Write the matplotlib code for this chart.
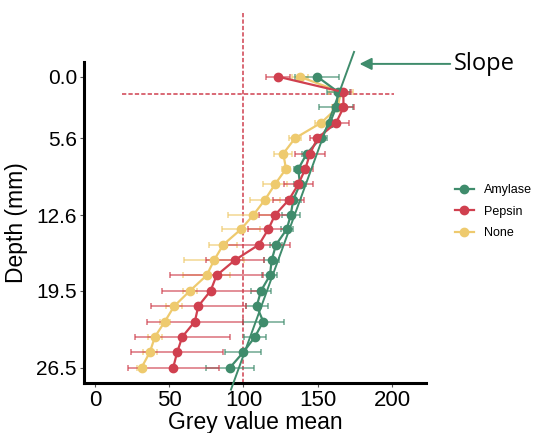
import matplotlib
matplotlib.use("Agg")
import matplotlib.pyplot as plt
from matplotlib.lines import Line2D

plt.rcParams['font.family'] = ['Liberation Sans', 'DejaVu Sans']

# depth of each slice (mm) and the y tick labels
depth = [0.0, 1.4, 2.8, 4.2, 5.6, 7.0, 8.4, 9.8, 11.2, 12.6,
         13.9, 15.3, 16.7, 18.1, 19.5, 20.9, 22.3, 23.7, 25.1, 26.5]
depth_ticks = [0.0, 5.6, 12.6, 19.5, 26.5]
grey_ticks = [0, 50, 100, 150, 200]

amylase = [149.7, 163.8, 162.3, 158.2, 151.9, 142.6, 136.9, 138.0, 133.5, 131.8,
           129.1, 121.9, 119.0, 117.8, 111.8, 108.9, 113.3, 107.7, 99.9, 90.9]
amylase_err = [14.8, 7.8, 11.4, 5, 4, 3, 3, 4, 5, 6,
               4, 4, 5, 5, 6.7, 7.4, 13.7, 7.4, 12.1, 16.4]

pepsin = [123.4, 167.2, 167.3, 162.3, 149.8, 144.8, 141.6, 136.9, 130.6, 121.2,
          116.7, 110.4, 94.3, 81.9, 77.9, 69.6, 67.3, 58.8, 55.4, 52.7]
pepsin_err = [8, 5, 7, 8.8, 5, 10.3, 5, 9.6, 10.4, 10.8,
              13.5, 21.2, 19.7, 31, 32.6, 31.9, 32.5, 32, 30.8, 30.6]

none = [138.0, 165.6, 163.3, 152.2, 134.7, 126.8, 128.6, 121.2, 114.5, 106.6,
        98.3, 86.4, 80.3, 75.2, 64.0, 53.4, 47.1, 40.4, 37.0, 31.4]
none_err = [5.6, 8, 4, 4, 4, 6, 3, 8, 10, 16.8,
            13, 9.4, 20, 16, 5, 5.5, 3.5, 4.5, 4.5, 3.3]

# reference lines and slope guide
ref_grey = 100
ref_depth = 1.57
slope_x = [174.4, 91.6]
slope_y = [-2.26, 28.5]

c_amy = "#3f8c6c"
c_pep = "#d0404f"
c_none = "#eeca6e"

fig = plt.figure(figsize=(5.34, 4.33), dpi=100)
ax = fig.add_axes([0.157, 0.1155, 0.641, 0.7415])

series = [
    ("None", none, none_err, c_none),
    ("Amylase", amylase, amylase_err, c_amy),
    ("Pepsin", pepsin, pepsin_err, c_pep),
]
for name, vals, err, col in series:
    ax.errorbar(vals, depth, xerr=err, fmt='none', ecolor=col, elinewidth=1.1,
                capsize=2, capthick=1.1, alpha=0.75, zorder=2)
    ax.plot(vals, depth, '-o', color=col, lw=1.6, ms=6, zorder=3)

# dashed red guides
ax.plot([ref_grey, ref_grey], [-5.84, 27.9], color=c_pep, lw=1.1,
        dashes=(2.8, 1.4), clip_on=False, zorder=1)
ax.plot([18, 201], [ref_depth, ref_depth], color=c_pep, lw=1.1,
        dashes=(2.8, 1.4), clip_on=False, zorder=1)

# slope line
ax.plot(slope_x, slope_y, color=c_amy, lw=1.4, clip_on=False, zorder=4)
ax.annotate('', xy=(178.1, -1.17), xytext=(239.1, -1.17), annotation_clip=False,
            arrowprops=dict(arrowstyle='-|>', color=c_amy, lw=1.4,
                            mutation_scale=18, shrinkA=0, shrinkB=0))
ax.text(241.5, -1.2, "Slope", fontsize=17, ha='left', va='center',
        family=['Open Sans', 'DejaVu Sans'], clip_on=False)

ax.set_xlim(-7.4, 222.9)
ax.set_ylim(27.9, -1.35)
ax.set_xticks(grey_ticks)
ax.set_yticks(depth_ticks)
ax.set_yticklabels([f"{d:.1f}" for d in depth_ticks])
ax.tick_params(axis='x', labelsize=16, length=3, color='#555555', pad=2)
ax.tick_params(axis='y', labelsize=15, length=3, color='#555555', pad=2)

for s in ['top', 'right']:
    ax.spines[s].set_visible(False)
for s in ['left', 'bottom']:
    ax.spines[s].set_linewidth(2.2)

ax.set_xlabel("Grey value mean", fontsize=16.5, labelpad=0)
ax.set_ylabel("Depth (mm)", fontsize=16.5, labelpad=6)

handles = [Line2D([], [], color=c, marker='o', lw=1.6, ms=6)
           for c in (c_amy, c_pep, c_none)]
fig.legend(handles, ["Amylase", "Pepsin", "None"], loc='center left',
           bbox_to_anchor=(0.852, 0.511), frameon=False, fontsize=9,
           handlelength=1.5, handletextpad=0.8, labelspacing=0.75,
           borderpad=0, borderaxespad=0)

fig.savefig("out.png", dpi=100)
